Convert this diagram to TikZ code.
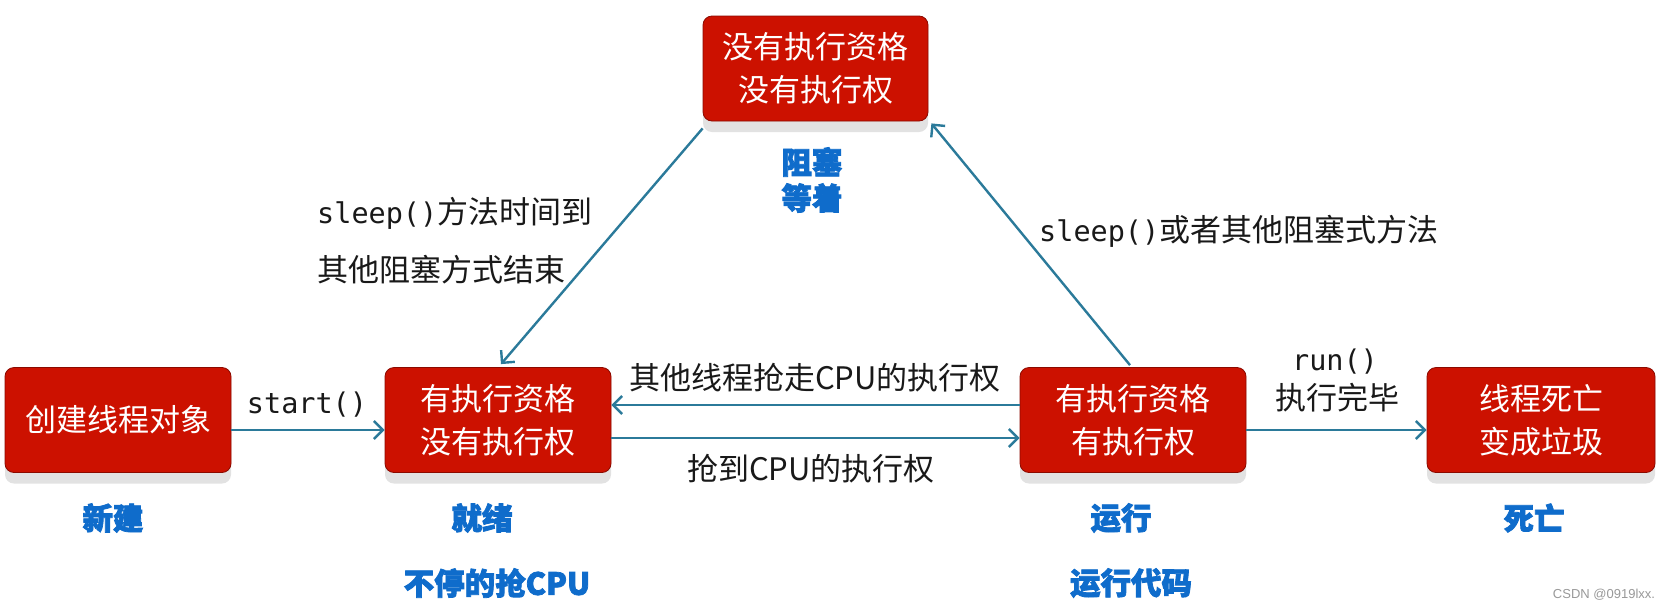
\documentclass[tikz,border=0pt]{standalone}
\usepackage{fontspec}
\setmainfont{Noto Sans CJK SC}
\newfontfamily\mono{DejaVu Sans Mono}
\newfontfamily\wmfont{Liberation Sans}
\newfontfamily\heavycjk[BoldFeatures={FakeBold=2.5}]{Noto Sans CJK SC}
\usetikzlibrary{arrows.meta,shadows,calc}
\definecolor{boxred}{HTML}{CC1100}
\definecolor{boxedge}{HTML}{8B0A00}
\definecolor{arrowc}{HTML}{2B7A9A}
\definecolor{lblue}{HTML}{0F6CCB}
\definecolor{shadowgray}{HTML}{E2E2E2}
\begin{document}
\begin{tikzpicture}[x=1pt,y=-1pt,
 statebox/.style={draw=boxedge, line width=0.8pt, fill=boxred, rounded corners=9pt,
   minimum width=225pt, minimum height=105pt, text=white, align=center,
   font=\fontsize{31}{43}\selectfont, inner sep=0pt,
   drop shadow={shadow xshift=0pt, shadow yshift=-11pt, fill=shadowgray, opacity=1}},
 conn/.style={draw=arrowc, line width=2.4pt, -{Straight Barb[length=9pt,width=18pt]}},
 lbl/.style={text=black!90, font=\fontsize{31}{36}\selectfont, inner sep=0pt},
 monolbl/.style={text=black!90, font=\mono\fontsize{28.5}{34}\selectfont, inner sep=0pt},
 statelbl/.style={text=lblue, font=\heavycjk\bfseries\fontsize{30.5}{36}\selectfont, inner sep=0pt},
]
\useasboundingbox (0,0) rectangle (1671,611);
\fill[white] (0,0) rectangle (1671,611);

% boxes
\node[statebox] (block) at (815.5,68.5) {没有执行资格\\没有执行权};
\node[statebox, minimum width=226pt] (create) at (118,420) {创建线程对象};
\node[statebox, minimum width=226pt] (ready) at (498,420) {有执行资格\\没有执行权};
\node[statebox, minimum width=226pt] (run) at (1133,420) {有执行资格\\有执行权};
\node[statebox, minimum width=228pt] (dead) at (1541,420) {线程死亡\\变成垃圾};

% connectors
\draw[conn] ($(create.east)+(0,10)$) -- ($(ready.west)+(0,10)$);
\draw[conn] ($(run.west)+(0,-15)$) -- ($(ready.east)+(0,-15)$);
\draw[conn] ($(ready.east)+(0,18)$) -- ($(run.west)+(0,18)$);
\draw[conn] ($(run.east)+(0,10)$) -- ($(dead.west)+(0,10)$);
\draw[conn] ($(block.south west)+(0,7)$) -- ($(ready.north)+(3,-3)$);
\draw[conn] ($(run.north)+(-3,-2)$) -- ($(block.south east)+(3,2)$);

% connector labels
\node[monolbl] (lstart) at (307,405) {start()};
\node[lbl, anchor=west] (lwake1) at (317,213) {{\mono\fontsize{28.5}{34}\selectfont sleep()}方法时间到};
\node[lbl, anchor=west] (lwake2) at (317,270) {其他阻塞方式结束};
\node[lbl, anchor=west] (lsleep) at (1039,231) {{\mono\fontsize{28.5}{34}\selectfont sleep()}或者其他阻塞式方法};
\node[lbl] (lpre) at (815,378) {其他线程抢走CPU的执行权};
\node[lbl] (lget) at (811,469) {抢到CPU的执行权};
\node[monolbl] (lrun) at (1335,362) {run()};
\node[lbl] (ldone) at (1337,398) {执行完毕};

% state labels
\node[statelbl] (s1) at (812,162) {阻塞};
\node[statelbl] (s2) at (812,198) {等着};
\node[statelbl] (s3) at (113,518) {新建};
\node[statelbl] (s4) at (482,518) {就绪};
\node[statelbl] (s5) at (497,583) {不停的抢CPU};
\node[statelbl] (s6) at (1121,518) {运行};
\node[statelbl] (s7) at (1131,583) {运行代码};
\node[statelbl] (s8) at (1534,518) {死亡};

\node[text=black!40, font=\wmfont\fontsize{13}{15}\selectfont, inner sep=0pt] (wm) at (1604,595) {CSDN @0919lxx.};
\end{tikzpicture}
\end{document}
